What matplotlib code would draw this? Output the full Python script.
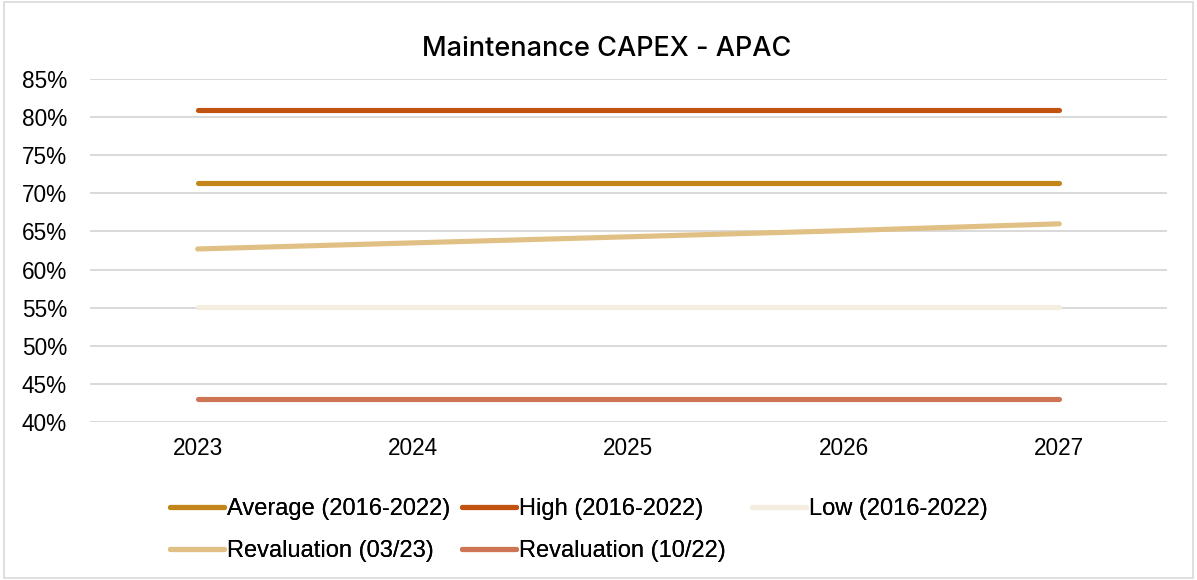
import matplotlib.pyplot as plt
from matplotlib.lines import Line2D
from matplotlib.patches import Rectangle
from matplotlib.ticker import FuncFormatter

years = ['2023', '2024', '2025', '2026', '2027']

average = [71.35, 71.35, 71.35, 71.35, 71.35]
high = [80.9, 80.9, 80.9, 80.9, 80.9]
low = [55.05, 55.05, 55.05, 55.05, 55.05]
reval_0323 = [62.7, 63.5, 64.3, 65.1, 66.0]
reval_1022 = [43.0, 43.0, 43.0, 43.0, 43.0]

series = [
    ('Average (2016-2022)', average, '#C4861A'),
    ('High (2016-2022)', high, '#C2520F'),
    ('Low (2016-2022)', low, '#F5EDDF'),
    ('Revaluation (03/23)', reval_0323, '#E1C085'),
    ('Revaluation (10/22)', reval_1022, '#CE7556'),
]

plt.rcParams['font.family'] = ['Liberation Sans', 'DejaVu Sans']

W, H = 1197, 580
fig = plt.figure(figsize=(W / 100, H / 100), dpi=100)
ax = fig.add_axes([90 / W, 1 - 422 / H, 1077 / W, 343 / H])

x = list(range(len(years)))
handles = {}
for name, vals, col in series:
    ln, = ax.plot(x, vals, color=col, lw=3.7, solid_capstyle='round', label=name, zorder=3)
    handles[name] = ln

ax.set_xlim(-0.5, 4.5)
ax.set_ylim(40, 85)
ax.set_yticks(range(40, 90, 5))
ax.yaxis.set_major_formatter(FuncFormatter(lambda v, p: f'{v:.0f}%'))
ax.set_xticks(x)
ax.set_xticklabels(years)
ax.grid(axis='y', color='#D9D9D9', lw=1.4)
ax.set_axisbelow(True)
for s in ax.spines.values():
    s.set_visible(False)
ax.tick_params(length=0, labelsize=16.3, colors='black')
ax.tick_params(axis='x', pad=11)
ax.tick_params(axis='y', pad=16.5)

fig.text(607 / W, 1 - 56 / H, 'Maintenance CAPEX - APAC', ha='center', va='baseline',
         fontsize=19.5, fontweight='medium', family=['Inter', 'DejaVu Sans'])

# legend laid out in three equal-width columns, filled row by row
cols = [
    (170, ['Average (2016-2022)', 'Revaluation (03/23)']),
    (462, ['High (2016-2022)', 'Revaluation (10/22)']),
    (752, ['Low (2016-2022)']),
]
for x0, names in cols:
    hs = [Line2D([], [], color=handles[n].get_color(), lw=3.7, solid_capstyle='round')
          for n in names]
    leg = fig.legend(hs, names, loc='upper left', bbox_to_anchor=(x0 / W, 1 - 498 / H),
                     frameon=False, fontsize=17, handlelength=2.3, handletextpad=0.12,
                     labelspacing=0.85, borderpad=0, borderaxespad=0)
    fig.add_artist(leg)

fig.patches.append(Rectangle((0.003, 0.004), 0.994, 0.992, transform=fig.transFigure,
                             fill=False, edgecolor='#D9D9D9', lw=1.2))

fig.savefig('out.png', dpi=100)
